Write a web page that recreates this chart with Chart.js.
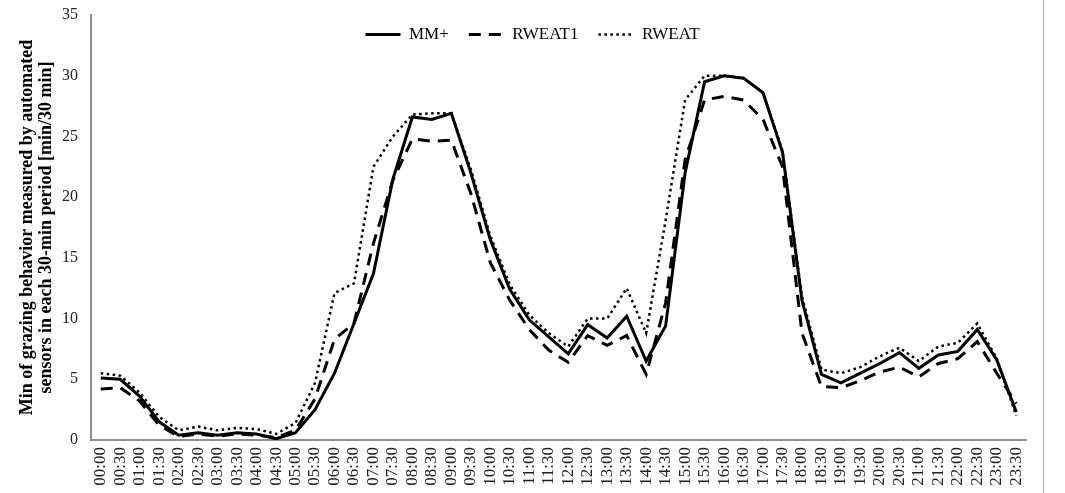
<!DOCTYPE html>
<html>
<head>
<meta charset="utf-8">
<script src="https://cdn.jsdelivr.net/npm/chart.js@4/dist/chart.umd.min.js"></script>
<style>
    body { margin: 0; background: #fff; }
    #wrap { position: relative; width: 1065px; height: 493px; }
    #edge { position: absolute; left: 1043px; top: 0; width: 1px; height: 493px; background: #b4b4b4; }
</style>
</head>
<body>
<div id="wrap">
    <canvas id="grazingChart" width="1065" height="493"></canvas>
    <div id="edge"></div>
</div>
<script>
const timeLabels = [
    '00:00', '00:30', '01:00', '01:30', '02:00', '02:30', '03:00', '03:30',
    '04:00', '04:30', '05:00', '05:30', '06:00', '06:30', '07:00', '07:30',
    '08:00', '08:30', '09:00', '09:30', '10:00', '10:30', '11:00', '11:30',
    '12:00', '12:30', '13:00', '13:30', '14:00', '14:30', '15:00', '15:30',
    '16:00', '16:30', '17:00', '17:30', '18:00', '18:30', '19:00', '19:30',
    '20:00', '20:30', '21:00', '21:30', '22:00', '22:30', '23:00', '23:30'
];

const mmPlus = [
    5.1, 5.0, 3.6, 1.5, 0.4, 0.6, 0.4, 0.6, 0.5, 0.1, 0.6, 2.5,
    5.5, 9.6, 13.7, 21.5, 26.6, 26.4, 26.9, 22.0, 16.5, 12.4, 9.9, 8.5,
    7.1, 9.5, 8.4, 10.2, 6.5, 9.4, 22.0, 29.5, 30.0, 29.8, 28.6, 23.7,
    11.5, 5.4, 4.7, 5.5, 6.3, 7.2, 5.9, 7.0, 7.3, 9.1, 6.6, 2.3
];

const rweat1 = [
    4.2, 4.3, 3.2, 1.2, 0.3, 0.5, 0.3, 0.5, 0.4, 0.2, 0.8, 3.4,
    8.3, 9.6, 16.2, 21.4, 24.8, 24.6, 24.7, 20.3, 14.6, 11.5, 9.1, 7.4,
    6.4, 8.6, 7.8, 8.6, 5.4, 11.3, 23.1, 28.0, 28.3, 28.0, 26.4, 22.5,
    8.8, 4.4, 4.3, 4.9, 5.6, 6.0, 5.2, 6.3, 6.7, 8.1, 5.5, 3.0
];

const rweat = [
    5.5, 5.3, 3.9, 1.9, 0.8, 1.1, 0.8, 1.0, 0.9, 0.5, 1.4, 4.7,
    12.1, 12.9, 22.5, 25.0, 26.8, 26.9, 26.9, 22.3, 16.8, 12.8, 10.3, 8.8,
    7.7, 10.0, 10.0, 12.5, 8.8, 18.1, 28.0, 30.0, 30.0, 29.8, 28.6, 23.8,
    11.8, 5.8, 5.5, 6.0, 6.9, 7.6, 6.5, 7.7, 8.0, 9.6, 6.7, 2.0
];

const serif = "'Liberation Serif', 'Times New Roman', serif";

// legend sits inside the plot: take no room at layout time, then park it on top
const legendPlacer = {
    id: 'legendPlacer',
    beforeLayout(chart) {
        const lg = chart.legend;
        if (!lg || lg._flat) return;
        const fit = lg.fit.bind(lg);
        lg.fit = function () {
            fit();
            this._realHeight = this.height;
            this.height = 0;
        };
        lg._flat = true;
    },
    afterLayout(chart) {
        const lg = chart.legend;
        if (!lg) return;
        lg.height = lg._realHeight || 0;
        lg.left = 0;
        lg.right = chart.width;
        lg.width = chart.width;
        lg.top = chart.chartArea.top - 9;
        lg.bottom = lg.top + lg.height;
    }
};

function lineSet(label, data, width, dash) {
    return {
        label: label,
        data: data,
        borderColor: '#000',
        backgroundColor: '#000',
        borderWidth: width,
        borderDash: dash,
        borderCapStyle: 'butt',
        borderJoinStyle: 'miter',
        pointRadius: 0,
        pointHoverRadius: 0,
        tension: 0,
        fill: false
    };
}

new Chart(document.getElementById('grazingChart').getContext('2d'), {
    type: 'line',
    data: {
        labels: timeLabels,
        datasets: [
            lineSet('MM+', mmPlus, 3, []),
            lineSet('RWEAT1', rweat1, 3, [12, 8]),
            lineSet('RWEAT', rweat, 2.5, [2.5, 3.5])
        ]
    },
    options: {
        responsive: false,
        animation: false,
        events: [],
        layout: { padding: { top: 15, right: 39, bottom: 0, left: 0 } },
        plugins: {
            tooltip: { enabled: false },
            legend: {
                position: 'top',
                align: 'center',
                labels: {
                    usePointStyle: true,
                    pointStyle: 'line',
                    pointStyleWidth: 35,
                    padding: 20,
                    color: '#000',
                    font: { family: serif, size: 17 },
                    generateLabels(chart) {
                        const items = Chart.defaults.plugins.legend.labels.generateLabels(chart);
                        items.forEach((it) => {
                            const ds = chart.data.datasets[it.datasetIndex];
                            it.lineDash = ds.borderDash;
                            it.lineWidth = ds.borderWidth;
                            it.pointStyle = 'line';
                        });
                        return items;
                    }
                }
            }
        },
        scales: {
            x: {
                offset: true,
                grid: { display: false, drawTicks: false },
                border: { display: true, color: '#8f8f8f', width: 2 },
                ticks: {
                    autoSkip: false,
                    maxRotation: 90,
                    minRotation: 90,
                    padding: 7,
                    color: '#222',
                    font: { family: serif, size: 17 }
                },
                afterFit(scale) { scale.height = 53; }
            },
            y: {
                min: 0,
                max: 35,
                grid: { display: false, drawTicks: false },
                border: { display: true, color: '#8f8f8f', width: 2 },
                ticks: {
                    stepSize: 5,
                    padding: 13,
                    color: '#222',
                    font: { family: serif, size: 16 }
                },
                title: {
                    display: true,
                    text: ['Min of grazing behavior measured by automated',
                           'sensors in each 30-min period [min/30 min]'],
                    color: '#000',
                    font: { family: serif, size: 18, weight: 'bold', lineHeight: 1.05 },
                    padding: { top: 18, bottom: 0 }
                },
                afterFit(scale) {
                    scale.width = 91;
                    scale.paddingTop = 0;
                    scale.paddingBottom = 0;
                }
            }
        }
    },
    plugins: [legendPlacer]
});
</script>
</body>
</html>
